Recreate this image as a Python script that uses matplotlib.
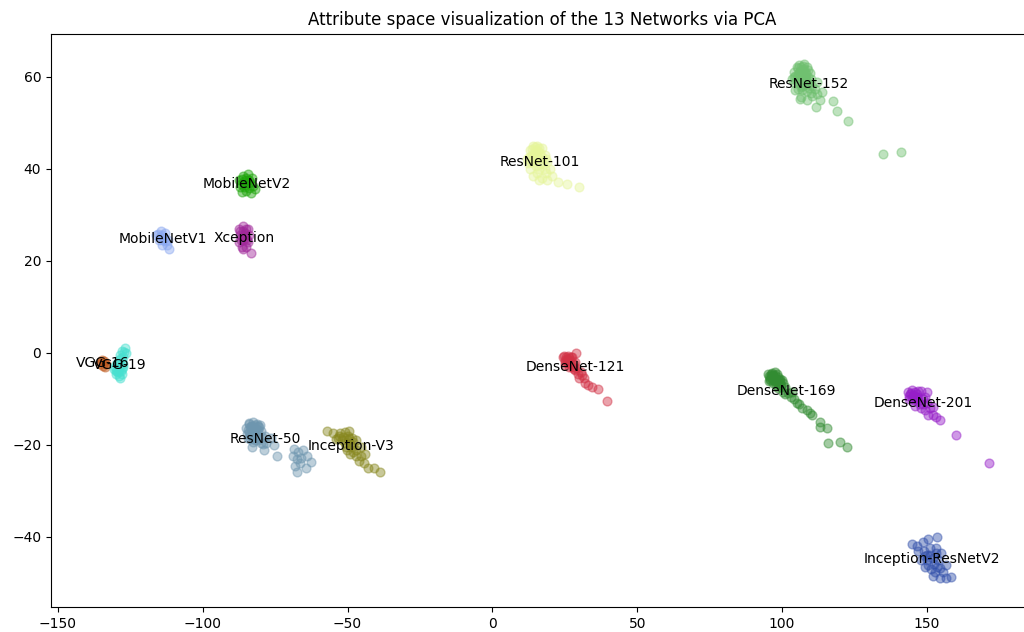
import numpy as np
import matplotlib
matplotlib.use("Agg")
import matplotlib.pyplot as plt

# network names and colours
networks = ["ResNet-152", "ResNet-101", "MobileNetV2", "Xception", "MobileNetV1",
            "VGG-16", "VGG-19", "DenseNet-121", "DenseNet-169", "DenseNet-201",
            "ResNet-50", "Inception-V3", "Inception-ResNetV2"]
colors = ["#70c070", "#e6f59a", "#1ea50a", "#a0289a", "#8aa8f0",
          "#c05a1e", "#48e0d0", "#d23246", "#328c32", "#961ec8",
          "#6e96af", "#87871e", "#3250aa"]

# PCA coordinates, one list of (x, y) per network
resnet152 = [(104, 61), (106, 62.5), (107.5, 62.8), (108.5, 62), (105, 60), (106.5, 60.5),
             (108, 60), (109.5, 60.8), (110, 59.5), (104.5, 58.5), (106, 58.8), (107.5, 58.2),
             (109, 58.5), (110.5, 58), (105.5, 57.2), (107, 57), (108.5, 56.8), (110, 56.5),
             (111.5, 57.2), (106.5, 55.5), (108.5, 55), (110.5, 55.8), (112, 56.2), (113.7, 56.7),
             (111.6, 53.3), (106.1, 55.2), (117.5, 54.6), (118.9, 52.6), (122.7, 50.4),
             (134.8, 43.2), (141, 43.7), (103.5, 59.5), (112, 58.8), (107, 61.5), (109, 61.5),
             (104.5, 57), (113, 55), (105.5, 61.8), (107, 60.2), (108.2, 59.2), (106, 59.6),
             (109, 59.8), (107.2, 61), (105, 59), (108, 61), (106.8, 58), (109.2, 57.5),
             (105.8, 60.8), (107.8, 59.8), (106.5, 57.8), (108.6, 58.4),
             (105.2, 62), (106.2, 61.2), (107.4, 62.2), (104.6, 60.2), (106.8, 60.8),
             (105.6, 59.4), (107.6, 61.6), (104.2, 59.8), (106.4, 62), (105.4, 60.6),
             (107, 59.4), (108.4, 60.6)]
resnet101 = [(12, 42), (13, 44), (14, 45), (15.5, 45), (17, 44.5), (18, 43), (13, 40),
             (14.5, 41.5), (16, 42), (17.5, 41), (19, 41.5), (20, 40), (14, 38.5), (15.5, 39),
             (17, 38), (18.5, 39), (16, 37.5), (19, 37.5), (20.5, 38.5), (22.6, 37.2),
             (25.7, 36.7), (29.8, 36.1), (13.5, 43), (16.5, 43.5), (15, 40.5), (18, 40),
             (14.5, 43.5), (15.5, 42.5), (16.5, 41), (13.8, 41.8), (15, 44), (17, 42.5),
             (14, 42.8), (16, 40), (18.5, 42), (12.8, 42.6), (13.6, 44.2), (14.6, 44.6),
             (15.8, 43.8), (12.4, 41.2), (14.2, 42), (15.2, 43.2), (13.2, 41.4), (16.2, 44.4),
             (14.8, 42.4)]
mobilenetv2 = [(-87.5, 37.5), (-86, 38.5), (-84.5, 38.8), (-83, 38), (-87, 36), (-85.5, 36.5),
               (-84, 36.8), (-82.5, 36.2), (-86.5, 35), (-85, 35.2), (-83.5, 34.8), (-82, 35.5),
               (-85, 37.5), (-84, 35.8), (-86, 37), (-86.5, 37.8), (-85.2, 38), (-84.2, 37.5),
               (-85.8, 36), (-83.6, 37), (-86.8, 36.6)]
xception = [(-87.5, 27), (-86, 27.5), (-84.5, 27), (-87, 25.5), (-85.5, 26), (-84, 25.5),
            (-87.5, 24), (-86, 24.5), (-84.5, 24), (-86.5, 23), (-85, 23), (-86, 22.5),
            (-83.5, 21.7), (-85, 25), (-86.5, 25.2), (-86.2, 26.5), (-85, 26.8), (-87, 26.4),
            (-85.8, 25.6), (-84.8, 24.6), (-86.8, 24.6)]
mobilenetv1 = [(-116, 25.5), (-114.5, 26.5), (-113, 26), (-115, 24.5), (-113.5, 25), (-112, 24.5),
               (-114, 23.5), (-112.5, 23.5), (-111.5, 22.5), (-113, 24.2), (-115.5, 25.8),
               (-114.2, 25.6), (-113.8, 24.6), (-114.8, 25.2)]
vgg16 = [(-135, -2), (-134, -1.8), (-133.5, -2.5), (-134.5, -2.8), (-135.5, -2.4), (-134, -2.2),
         (-134.8, -1.6), (-133.8, -3)]
vgg19 = [(-127, 1), (-126.5, 0), (-128, 0.5), (-127.5, -1), (-129, -1.5), (-128, -2),
         (-130, -2.5), (-129, -3), (-127.5, -3), (-130.5, -3.5), (-129.5, -4), (-128, -4.5),
         (-129, -5), (-127.5, -2.5), (-128.5, -0.5), (-127.2, 0.2), (-128.2, -1.2),
         (-129.2, -2.2), (-128.8, -3.8), (-127.8, -3.6), (-129.8, -4.6), (-128.6, -5.4),
         (-130.2, -3), (-129.4, -4.2), (-128.4, -4), (-130, -4)]
densenet121 = [(24.5, -1), (25.5, -0.8), (26.5, -1.2), (25, -2), (26, -2.2), (27, -1.8),
               (28, -2.5), (26.5, -3), (28, -3.5), (29, -3.2), (29.5, -4.5), (30.5, -4.2),
               (30, -5.5), (31.5, -5.5), (32, -6.5), (33, -7), (34.5, -7.5), (36.4, -7.8),
               (39.5, -10.4), (28.8, 0), (27.5, -1), (31, -4.8), (25, -1.5), (25.8, -1.4),
               (26.8, -2.4), (27.4, -3), (28.4, -2), (25.2, -2.6), (27, -1), (28.6, -3.8),
               (26.2, -0.6), (25.6, -1.8), (26.4, -1.6), (24.8, -0.6)]
densenet169 = [(95.5, -5), (97, -4.8), (98.5, -5.2), (96, -6), (97.5, -6.2), (99, -6.5),
               (100, -6), (98, -7), (99.5, -7.5), (101, -7.5), (100.5, -8.5), (102, -8.8),
               (103, -9.5), (104, -10), (105, -10.8), (106, -11.2), (107, -12), (108.5, -12.4),
               (109.6, -13), (113, -15), (113, -16.1), (115.4, -16.3), (115.8, -19.6),
               (119.9, -19.3), (122.4, -20.4), (101, -9), (103.5, -8.5), (96.5, -5.5), (110.5, -13.5),
               (96.2, -4.6), (97.8, -5.6), (98.8, -6), (96.8, -6.6), (99.8, -7), (97.2, -5.2),
               (98.2, -4.6), (100.2, -6.6), (95.8, -5.6), (98.6, -7.6), (99.2, -5.6),
               (96.4, -4.4), (97.4, -4.2), (95.2, -4.6), (96.8, -5.2), (98, -5.8), (95.6, -6.2),
               (97.6, -4.8), (96, -5.2), (98.4, -6.6), (97, -6), (99.4, -6.2), (96.6, -4.8)]
densenet201 = [(143.5, -8.5), (145, -8), (146.5, -9), (148, -8.3), (150, -8.5), (144, -10),
               (145.5, -10.2), (147, -10.5), (148.5, -10), (150, -11), (146, -11.5), (148, -12),
               (149.5, -12.5), (151, -12), (150.5, -13.5), (152, -13.5), (153, -14), (154.5, -14.6),
               (160, -17.8), (171.5, -24), (152, -11.8), (147, -9.5), (145.2, -9.2),
               (146.2, -10), (148.8, -11.2), (149.2, -9.6), (147.5, -11.2), (144.6, -8.8),
               (144.2, -9), (145.8, -8.6), (146.8, -8.2), (144.8, -9.8), (146.4, -9.6),
               (143.8, -9.4), (145.4, -9.6)]
resnet50 = [(-84, -15.5), (-82.5, -15), (-81, -16), (-83, -17), (-81.5, -17.5), (-80, -17),
            (-78.5, -18), (-84.5, -18.5), (-82, -19), (-80, -19.5), (-78, -19.5), (-76.5, -18.5),
            (-83, -20.5), (-79, -21), (-75.5, -20), (-74.5, -22.5), (-80.5, -18.5),
            (-82.2, -16.2), (-80.8, -16.8), (-83.4, -18), (-81.8, -18.2), (-79.6, -18.2),
            (-81, -19), (-82.8, -19.4), (-79.2, -19.8), (-84, -17.2), (-80.2, -15.6),
            (-83.6, -16.2), (-82.6, -16.6), (-81.4, -15.4), (-84.4, -16.8), (-82.4, -17.8),
            (-83.2, -15.8), (-81.6, -16.6), (-84.8, -17.6), (-82, -15.6), (-83.8, -18.8),
            (-81.2, -17.2), (-82.8, -18.4), (-80.6, -16.2), (-84.2, -15.2), (-83, -16),
            (-85, -16.4), (-82.2, -17), (-83.6, -17.6),
            (-68.5, -20.8), (-67, -21.5), (-65.5, -21), (-69, -22.5), (-67.5, -23), (-66, -22.8),
            (-64, -22.5), (-68, -24.5), (-66.5, -24), (-67.5, -25.8), (-62.5, -23.8), (-64.5, -25)]
inceptionv3 = [(-57, -17), (-55, -17.5), (-53, -18), (-51, -17.2), (-49.5, -17), (-52, -19),
               (-50, -19), (-48.5, -18.5), (-47, -19), (-50.5, -20.5), (-48.5, -20.5), (-47, -21),
               (-45.5, -20.5), (-49, -22), (-47, -22.5), (-45.5, -22.5), (-44, -22), (-46, -23.5),
               (-44.5, -24), (-43, -25), (-41, -25), (-38.8, -25.9), (-54, -18.8), (-48, -21.5),
               (-51.5, -18.2), (-50, -18), (-49.2, -19.8), (-51, -19.6), (-52.5, -17.4),
               (-48.2, -19.4), (-50.2, -21.2), (-53.4, -18.6), (-49.6, -18.6)]
inception_resnetv2 = [(145, -41.5), (148.5, -41), (150.5, -40.5), (153.5, -40), (147, -43),
                      (149, -43), (151, -42.5), (153, -42.5), (148, -45), (150, -45), (152, -44.5),
                      (154, -45), (149.5, -46.5), (151.5, -47), (153.5, -46.5), (155.5, -47.5),
                      (152, -48.5), (154.5, -48.8), (156.5, -48.8), (158.5, -48.7), (146.5, -42),
                      (150, -44), (155, -43.5), (156.5, -46), (151, -44), (152.5, -45.8),
                      (150.5, -46), (153, -43.5), (154.5, -46.8), (149.5, -44.2), (152.8, -47.6)]

clusters = [resnet152, resnet101, mobilenetv2, xception, mobilenetv1, vgg16, vgg19,
            densenet121, densenet169, densenet201, resnet50, inceptionv3, inception_resnetv2]

fig = plt.figure(figsize=(10.24, 6.32), dpi=100)
ax = fig.add_axes([0.0498, 0.0396, 0.96, 0.907])

for name, col, pts in zip(networks, colors, clusters):
    pts = np.array(pts)
    ax.scatter(pts[:, 0], pts[:, 1], color=col, alpha=0.45, s=40)

# label every cluster at its centre
for name, pts in zip(networks, clusters):
    pts = np.array(pts)
    cx, cy = pts[:, 0].mean(), pts[:, 1].mean()
    ax.text(cx, cy, name, ha="center", va="center", fontsize=10)

ax.set_xlim(-152.4, 187)
ax.set_ylim(-55.2, 69.3)
ax.set_title("Attribute space visualization of the 13 Networks via PCA")

fig.savefig("out.png", dpi=100)
